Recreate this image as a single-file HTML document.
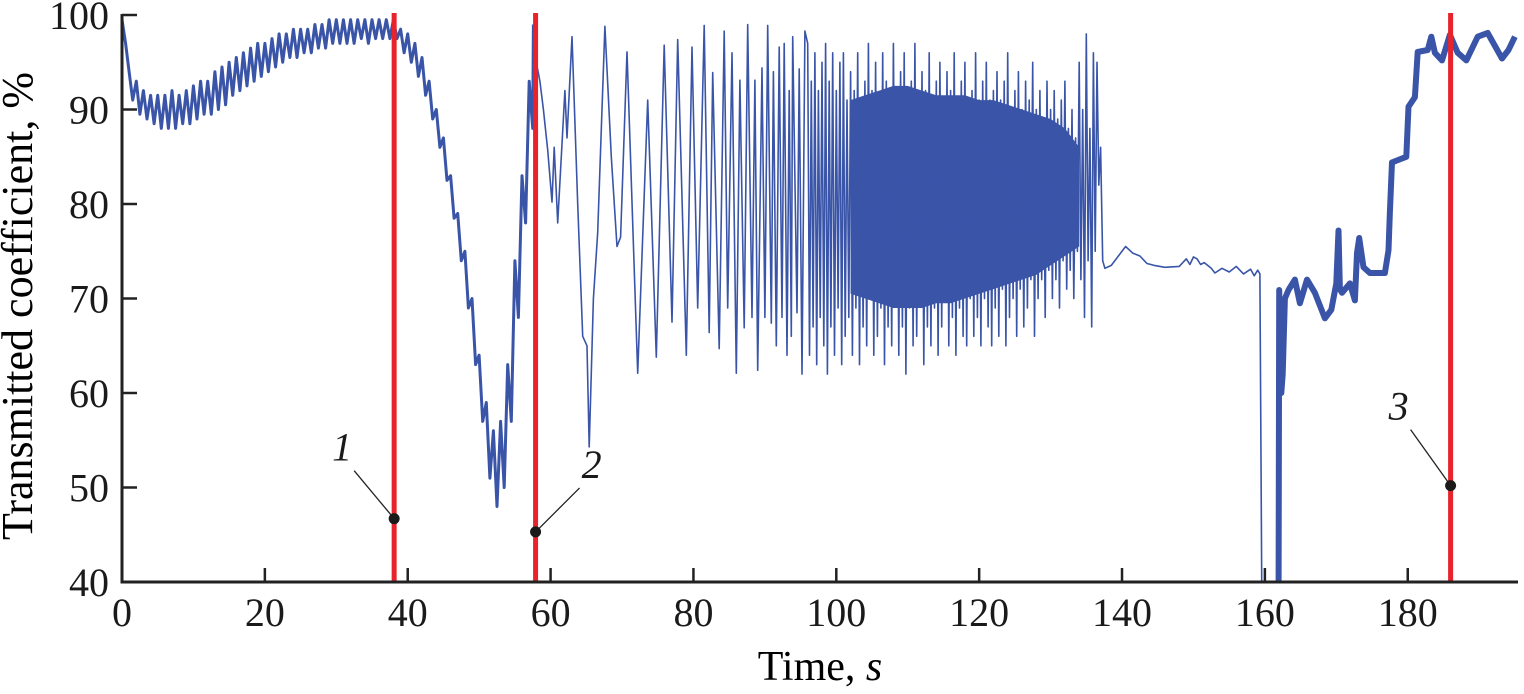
<!DOCTYPE html>
<html><head><meta charset="utf-8"><style>
html,body{margin:0;padding:0;background:#fff;}
svg{display:block;font-family:"Liberation Serif",serif;}
</style></head><body>
<svg id="chart" width="1524" height="694" viewBox="0 0 1524 694" xmlns="http://www.w3.org/2000/svg">
<defs><clipPath id="plotclip"><rect x="122" y="14" width="1396" height="568"/></clipPath></defs>
<g id="series" clip-path="url(#plotclip)"></g>
<g id="markers"></g>
<g id="axes"></g>
<text x="820" y="680" text-anchor="middle" font-size="42">Time, <tspan font-style="italic">s</tspan></text>
<text transform="translate(32,306) rotate(-90)" text-anchor="middle" font-size="44">Transmitted coefficient, %</text>
</svg>
<script>
// ---- data ----
const xTicks = [0,20,40,60,80,100,120,140,160,180];
const yTicks = [40,50,60,70,80,90,100];
// early noisy segment, one pair per second starting at t=0
const earlyHi = [99.5,94,93,92,91.5,91.5,91.5,92,91.5,92,92.5,93,93,94,94.5,95,95.5,96,96.5,97,97,97.5,98,98,98.5,98.5,98.5,99,99,99.5,99.5,99.5,99.5,99.5,99.5,99.5,99.5,99.5,99.5,98.5,98,97,95.5,93,90,87,83,79,75,70,64,59,56,57,63,74,83,93];
const earlyLo = [97,91,89.5,89,88.5,88,88,88,88.5,88.5,89,89.5,89.5,90,90.5,91.5,92,92.5,93,93.5,94,94.5,95,95.5,95.5,96,96,96.5,96.5,97,97,97,97,97.5,97,97.5,97.5,97.5,97.5,96,95,93.5,91.5,89,86,82.5,78.5,74,69,63,57,51,48,50,57,68,78,88];
const midT = [57.6,58,58.5,59,59.6,60.2,60.5,61,62,62.3,63,63.8,64.5,65.1,65.4,66,66.6,67.6,68.5,69.3,69.8,70.7,72.2,73.6,74.8,75.9,77,77.8,79,79.8,80.6,81.5,82.2,82.7,83.6,84.3,84.8,85.4,86,86.5,87.1,87.6,88.2,88.6,89,89.6,90,90.4,90.9,91.2,91.6,92,92.4,92.7,93.1,93.4,93.7,93.9,94.5,94.8,95.2,95.6];
const midV = [99,95,93,90,85.7,80.2,86,78,92,87,97.7,80,66,65,54.3,70,77,98.8,85,75.5,76.5,96.1,62.1,91,63.8,96.8,67.5,97.4,64,96.6,69,98.9,66.4,93.9,64.7,98.3,69,96,62.1,93.1,66.9,99,68,93.1,62.4,94.4,68,98.9,67.4,94,65,96.6,68,97,64,92,66,97.7,68.5,94.3,62,98.3];
const denseStart = 96, denseStep = 0.5;
const densePeaks = [97,93,96,92,95,97,93,96,92,95,96,91,94,92,96,91,93,97,92,95,91,96,93,92,97,91,94,96,92,93,97,91,94,92,96,91,93,95,91,94,92,96,91,93,95,91,92,96,91,93,95,91,92,94,91,93,96,90,92,94,90,93,91,95,90,92,89,93,90,92,89,91,93,88,90,87,95,90,98,88,96,95];
const denseTroughs = [64,67,63,68,65,62,67,64,69,63,66,68,64,69,63,67,65,70,64,66,69,63,67,65,70,64,67,62,69,65,66,70,63,67,65,69,64,67,70,65,68,64,69,66,65,70,66,68,65,70,67,65,69,66,71,65,68,70,66,71,67,69,72,66,70,72,68,73,70,72,69,74,71,73,70,75,72,68,74,67,75,82];
// solid core of the dense oscillation, every 2 s from t=102
const coreStart = 102, coreStep = 2;
const coreTop = [91,91.5,92,92.5,92.5,92,91.5,91.5,91.5,91,91,90.5,90,89.5,89,88,86];
const coreBottom = [70.5,70,69.5,69,69,69,69.5,69.5,70,70.5,71,71.5,72,72.5,73.5,74.5,75.5];
const lateT = [137.0,137.3,137.6,138.5,139.5,140.5,141.5,142.5,143.5,144.5,146,148,149,149.5,150,150.5,151,151.5,152.5,153,154,155,156,157,158,158.5,159,159.3,159.6];
const lateV = [86,74,73.2,73.5,74.5,75.5,74.8,74.5,73.7,73.5,73.3,73.4,74.2,73.6,74.4,74.2,73.6,73.8,73.2,72.7,73.2,72.8,73.4,72.6,73.1,72.4,73,72.6,35];
const thickT = [161.9,162.0,162.3,162.5,162.8,163.3,164.2,164.9,165.9,167,168.4,169.3,170,170.3,170.5,170.8,171.9,172.6,172.9,173.2,173.8,174.7,176.8,177.3,177.5,177.8,179.8,180.1,181,181.4,182.8,183.3,183.8,184.8,185.9,187,188.2,189.8,191.2,193.2,194.1,195];
const thickV = [35,70.9,60,62,70,70.9,72,69.5,72,70.6,67.9,68.8,71.6,77.2,71,70.6,71.6,69.8,74.8,76.4,73.3,72.7,72.7,75.1,79.2,84.4,85,90.3,91.3,96.1,96.3,97.7,96,95.2,97.9,96,95.2,97.7,98.1,95.4,96.3,97.7];
const eventTimes = [38.1,57.9,186];
const eventLabels = ["1","2","3"];
const eventDotV = [46.7,45.3,50.2];

// ---- scales ----
const X = t => 122 + t*7.143;
const Y = v => 582 - (v-40)*9.45;
const NS = "http://www.w3.org/2000/svg";
function mk(tag, parent){const e=document.createElementNS(NS,tag);parent.appendChild(e);return e;}
const fmt = p => X(p[0]).toFixed(1)+','+Y(p[1]).toFixed(1);

const series = document.getElementById('series');
// early noisy part (thicker stroke to mimic fine noise)
let ep = [];
for(let i=0;i<earlyHi.length;i++){ep.push([i,earlyHi[i]]);ep.push([i+0.5,earlyLo[i]]);}
ep.push([midT[0],midV[0]]);
const early = mk('polyline', series);


early.setAttribute('points', ep.map(fmt).join(' '));
early.setAttribute('fill','none');early.setAttribute('stroke','#3a55a8');early.setAttribute('stroke-width','3');early.setAttribute('stroke-linejoin','round');

// core band
let band = [];
for(let i=0;i<coreTop.length;i++) band.push([coreStart+i*coreStep, coreTop[i]]);
for(let i=coreBottom.length-1;i>=0;i--) band.push([coreStart+i*coreStep, coreBottom[i]]);
const core = mk('polygon', series);


core.setAttribute('points', band.map(fmt).join(' '));
core.setAttribute('fill','#3a55a8');

// thin series
let pts = [];
for(let i=0;i<midT.length;i++) pts.push([midT[i],midV[i]]);
for(let i=0;i<densePeaks.length;i++){const t=denseStart+i*denseStep;pts.push([t,densePeaks[i]]);pts.push([t+denseStep/2,denseTroughs[i]]);}
for(let i=0;i<lateT.length;i++) pts.push([lateT[i],lateV[i]]);
const thin = mk('polyline', series);


thin.setAttribute('points', pts.map(fmt).join(' '));
thin.setAttribute('fill','none');thin.setAttribute('stroke','#3a55a8');thin.setAttribute('stroke-width','1.6');thin.setAttribute('stroke-linejoin','round');

const thick = mk('polyline', series);


thick.setAttribute('points', thickT.map((t,i)=>fmt([t,thickV[i]])).join(' '));
thick.setAttribute('fill','none');thick.setAttribute('stroke','#3a55a8');thick.setAttribute('stroke-width','6');thick.setAttribute('stroke-linejoin','round');

// event markers
const mg = document.getElementById('markers');
const labelOff = [[-52,-62],[56,-58],[-52,-70]];
for(let i=0;i<eventTimes.length;i++){
  const x=X(eventTimes[i]);
  const ln=mk('line',mg);
  
  
  ln.setAttribute('x1',x);ln.setAttribute('x2',x);ln.setAttribute('y1',Y(100)-2);ln.setAttribute('y2',Y(40));
  ln.setAttribute('stroke','#e8232b');ln.setAttribute('stroke-width','5');
  const dy=Y(eventDotV[i]);
  const lx=x+labelOff[i][0], ly=dy+labelOff[i][1];
  const ld=mk('line',mg);
  
  
  ld.setAttribute('x1',lx+(labelOff[i][0]<0?12:-12));ld.setAttribute('y1',ly+14);ld.setAttribute('x2',x);ld.setAttribute('y2',dy);
  ld.setAttribute('stroke','#222');ld.setAttribute('stroke-width','1.3');
  const dot=mk('circle',mg);
  
  
  dot.setAttribute('cx',x);dot.setAttribute('cy',dy);dot.setAttribute('r','5.5');dot.setAttribute('fill','#1a1a1a');
  const tx=mk('text',mg);
  
  
  tx.setAttribute('x',lx);tx.setAttribute('y',ly+4);tx.setAttribute('text-anchor','middle');
  tx.setAttribute('font-size','40');tx.setAttribute('font-style','italic');tx.setAttribute('fill','#1a1a1a');
  tx.textContent=eventLabels[i];
}

// axes
const ax = document.getElementById('axes');
const frame = mk('path',ax);


frame.setAttribute('d','M122,14 L122,582 L1518,582');
frame.setAttribute('fill','none');frame.setAttribute('stroke','#222');frame.setAttribute('stroke-width','3');
xTicks.forEach(t=>{
  const l=mk('line',ax);
  
  
  l.setAttribute('x1',X(t));l.setAttribute('x2',X(t));l.setAttribute('y1',582);l.setAttribute('y2',568);
  l.setAttribute('stroke','#222');l.setAttribute('stroke-width','2.5');
  const tx=mk('text',ax);
  
  
  tx.setAttribute('x',X(t));tx.setAttribute('y',626);tx.setAttribute('text-anchor','middle');tx.setAttribute('font-size','40');tx.setAttribute('fill','#1a1a1a');
  tx.textContent=t;
});
yTicks.forEach(v=>{
  const l=mk('line',ax);
  
  
  l.setAttribute('x1',122);l.setAttribute('x2',137);l.setAttribute('y1',Y(v));l.setAttribute('y2',Y(v));
  l.setAttribute('stroke','#222');l.setAttribute('stroke-width','2.5');
  const tx=mk('text',ax);
  
  
  tx.setAttribute('x',109);tx.setAttribute('y',Y(v)+14);tx.setAttribute('text-anchor','end');tx.setAttribute('font-size','40');tx.setAttribute('fill','#1a1a1a');
  tx.textContent=v;
});
</script>
</body></html>
